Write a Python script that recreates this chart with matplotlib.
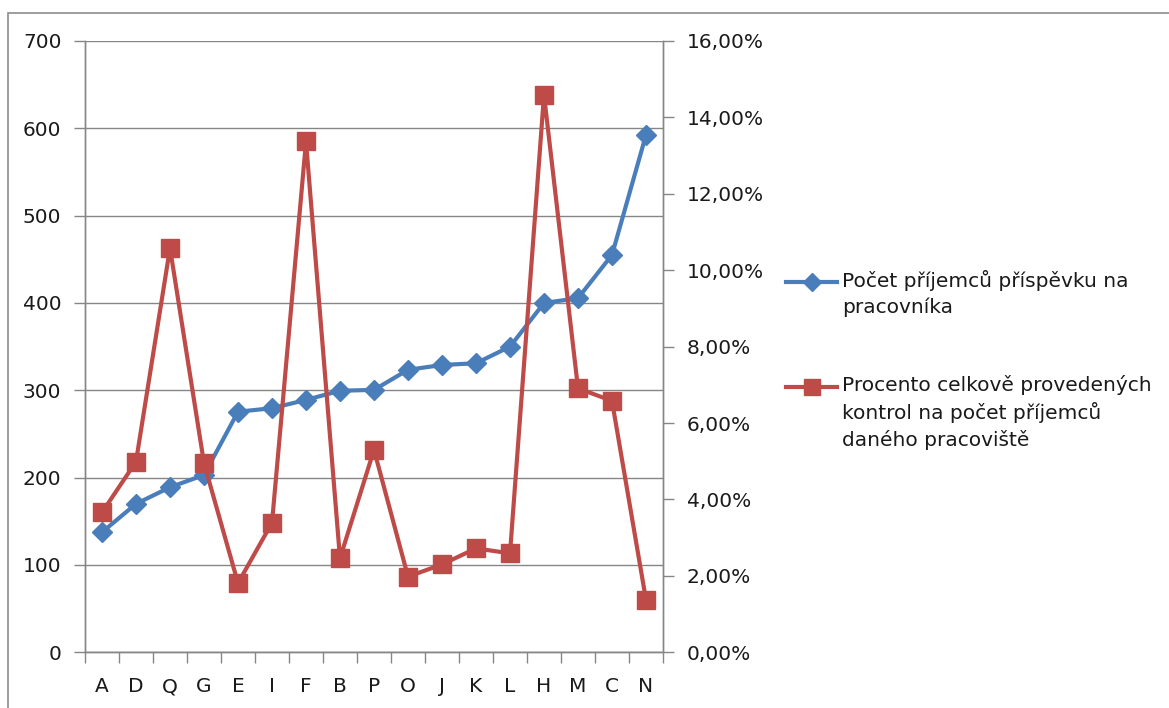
import matplotlib
matplotlib.use("Agg")
import matplotlib.pyplot as plt
from matplotlib.lines import Line2D
from matplotlib.patches import Rectangle
from matplotlib.ticker import FuncFormatter, FixedLocator, MultipleLocator

categories = ["A", "D", "Q", "G", "E", "I", "F", "B", "P", "O", "J", "K", "L", "H", "M", "C", "N"]
recipients = [137.5, 170, 189, 203, 275.5, 279.5, 289, 299.5, 300.5, 323.5, 329, 331, 350, 400, 405.5, 455, 592.5]
control_pct = [3.66, 4.99, 10.58, 4.95, 1.81, 3.39, 13.37, 2.46, 5.30, 1.98, 2.30, 2.72, 2.59, 14.59, 6.91, 6.58, 1.37]

label_blue = "Počet příjemců příspěvku na\npracovníka"
label_red = "Procento celkově provedených\nkontrol na počet příjemců\ndaného pracoviště"

blue = "#4A7EBB"
red = "#BE4B48"
grid_c = "#868686"

plt.rcParams["font.family"] = ["DejaVu Sans"]

W, H = 1169, 708
fig = plt.figure(figsize=(W / 100, H / 100), dpi=100)

# outer chart border (cropped at right and bottom)
fig.add_artist(Rectangle((8 / W, -0.1), 1.2, 1 - 13 / H + 0.1, transform=fig.transFigure,
                         fill=False, edgecolor="#8c8c8c", linewidth=1.2))

ax = fig.add_axes([85 / W, 1 - 652.3 / H, (663 - 85) / W, (652.3 - 41) / H])
ax2 = ax.twinx()

x = list(range(len(categories)))
ax.plot(x, recipients, color=blue, lw=3, marker="D", markersize=10, zorder=3)
ax2.plot(x, control_pct, color=red, lw=3, marker="s", markersize=13, zorder=3)

ax.set_xlim(-0.5, len(categories) - 0.5)
ax.set_ylim(0, 700)
ax2.set_ylim(0, 16)
ax.yaxis.set_major_locator(MultipleLocator(100))
ax2.yaxis.set_major_locator(MultipleLocator(2))
ax2.yaxis.set_major_formatter(FuncFormatter(lambda v, p: f"{v:.2f}".replace(".", ",") + "%"))

ax.set_xticks(x)
ax.set_xticklabels(categories)
ax.xaxis.set_minor_locator(FixedLocator([i - 0.5 for i in range(len(categories) + 1)]))
ax.tick_params(axis="x", which="major", length=0, pad=18, labelsize=14.5, colors="#1a1a1a")
ax.tick_params(axis="x", which="minor", length=8, width=1, color=grid_c)
ax.tick_params(axis="y", length=8, width=1, color=grid_c, pad=9, labelsize=14.5, labelcolor="#1a1a1a")
ax2.tick_params(axis="y", length=8, width=1, color=grid_c, pad=9, labelsize=14.5, labelcolor="#1a1a1a")

ax.grid(axis="y", color=grid_c, lw=1)
ax.set_axisbelow(True)
for a in (ax, ax2):
    a.spines["top"].set_visible(False)
    for s in ("left", "right", "bottom"):
        a.spines[s].set_color(grid_c)
        a.spines[s].set_linewidth(1)

# legend drawn by hand, handle aligned with first text line like the original
def legend_entry(y_px, color, marker, ms, text):
    yf = 1 - y_px / H
    fig.add_artist(Line2D([786 / W, 837 / W], [yf, yf], transform=fig.transFigure,
                          color=color, lw=3, marker=None))
    fig.add_artist(Line2D([811.5 / W], [yf], transform=fig.transFigure,
                          color=color, marker=marker, markersize=ms, lw=0))
    fig.text(842 / W, 1 - (y_px - 12) / H, text, fontsize=14.5, va="top", ha="left",
             color="#1a1a1a", linespacing=1.42, transform=fig.transFigure)

legend_entry(282, blue, "D", 9, label_blue)
legend_entry(387, red, "s", 11, label_red)

fig.savefig("out.png", dpi=100)
